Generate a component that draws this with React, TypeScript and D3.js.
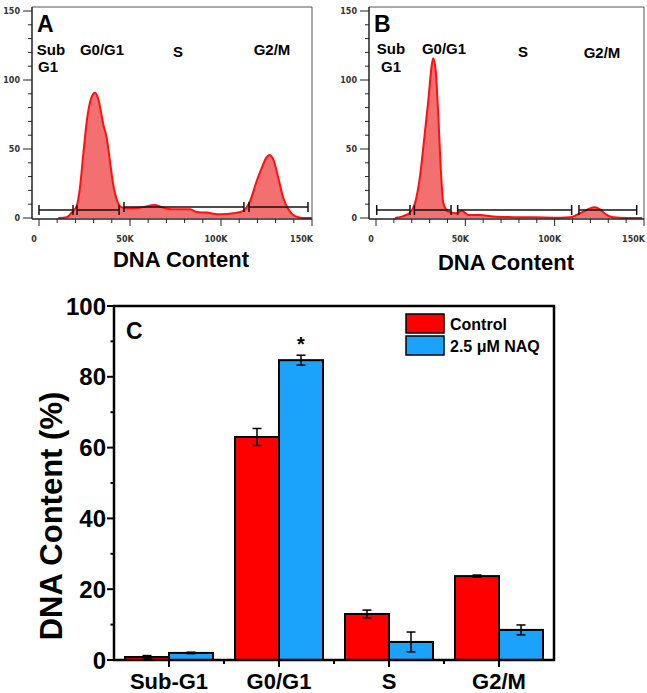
import React from "react";
import * as d3 from "d3";

// ---------- Histogram data (DNA content in K, counts) ----------
const histAK = [10.6, 15.2, 18, 20.7, 22.5, 24.3, 26.5, 29, 30.8, 32.6, 35.3, 37.2, 39, 40.8, 42.7, 44.9, 48.2, 55.5, 63.7, 68.3, 73.8, 83, 86.6, 92, 99.5, 106.8, 112, 116, 119.6, 122.4, 125, 126.5, 128.7, 131.5, 134.2, 137, 140.7, 145, 150];
const histACount = [0, 0.5, 4, 8.7, 22, 46, 72.7, 88, 90.8, 86, 68, 58, 41, 24, 13.5, 8, 7, 7.5, 9.4, 7.5, 6.3, 6.3, 4.3, 3.9, 2.7, 3.4, 5, 12.3, 26.8, 36.4, 44, 45.6, 42.5, 29, 14.7, 6.3, 1.4, 0, 0];
const histBK = [10.6, 15.3, 19, 21.8, 24.6, 26.9, 29.3, 31.1, 32, 33.4, 34.9, 36.2, 37.7, 40.5, 45.2, 48, 51.7, 58.2, 65.6, 76.8, 88, 103, 108.6, 112.3, 116, 119.8, 122.6, 125.3, 129.1, 132.8, 140.3, 149];
const histBCount = [0, 1.4, 3.9, 10.6, 30, 56.5, 85.5, 109.7, 115.7, 107, 73.4, 37, 10.6, 4.6, 3.4, 5.3, 2.2, 2.2, 1, 0.6, 0.5, 0.2, 0.5, 2.2, 4.6, 7, 7.7, 6.3, 2.2, 0.5, 0, 0];

const gateAStart = [0, 20.9, 46.7, 115.4];
const gateAEnd = [18.7, 44, 112.6, 147.8];
const gateALevel = [5.8, 5.8, 8, 8];
const gateBStart = [0.4, 21.5, 45.7, 113.6];
const gateBEnd = [19, 42, 109.5, 145.9];
const gateBLevel = [5.8, 5.8, 5.8, 5.8];

const histXTicks = [0, 50, 100, 150];
const histXTickLabels = ["0", "50K", "100K", "150K"];
const histYTicks = [0, 50, 100, 150];

// ---------- Bar chart data ----------
const categories = ["Sub-G1", "G0/G1", "S", "G2/M"];
const seriesNames = ["Control", "2.5 μM NAQ"];
const controlVals = [0.85, 63.0, 13.0, 23.7];
const controlErr = [0.4, 2.4, 1.1, 0.3];
const naqVals = [2.0, 84.7, 5.1, 8.5];
const naqErr = [0.2, 1.4, 2.8, 1.4];
const barYTicks = [0, 20, 40, 60, 80, 100];

const FONT = "'Liberation Sans', Arial, sans-serif";
const SMALL = "'DejaVu Sans', Verdana, sans-serif";
const HIST_STROKE = "#ff1010";
const HIST_FILL = "#f27070";
const RED = "#ff0000";
const BLUE = "#1ba3fb";

type HistProps = {
  letter: string;
  ks: number[];
  counts: number[];
  gs: number[];
  ge: number[];
  gl: number[];
  frameL: number;
  frameR: number;
  x0: number;
  titleX: number;
  titleY: number;
  labels: { t: string; x: number; y: number }[];
};

function Histogram(p: HistProps) {
  const x = d3.scaleLinear().domain([0, 150]).range([p.x0, p.frameR]);
  const y = d3.scaleLinear().domain([0, 150]).range([218, 11]);
  const top = 7;
  const bottom = 219;
  const pts = p.ks.map((k, i) => [k, p.counts[i]] as [number, number]);
  const area = d3
    .area<[number, number]>()
    .x((d) => x(d[0]))
    .y0(y(0))
    .y1((d) => y(d[1]))
    .curve(d3.curveMonotoneX);
  const line = d3
    .line<[number, number]>()
    .x((d) => x(d[0]))
    .y((d) => y(d[1]))
    .curve(d3.curveMonotoneX);
  const minorX = d3.range(0, 151, 10);
  const minorY = d3.range(0, 151, 10);
  return (
    <g>
      {/* frame */}
      <line x1={p.frameL} x2={p.frameR} y1={top} y2={top} stroke="#555" strokeWidth={1} />
      <line x1={p.frameR} x2={p.frameR} y1={top} y2={bottom} stroke="#555" strokeWidth={1} />
      <path d={area(pts) || ""} fill={HIST_FILL} />
      <path d={line(pts) || ""} fill="none" stroke={HIST_STROKE} strokeWidth={2} />
      <line x1={p.frameL} x2={p.frameL} y1={top} y2={bottom} stroke="#222" strokeWidth={1.5} />
      <line x1={p.frameL} x2={p.frameR} y1={bottom} y2={bottom} stroke="#222" strokeWidth={1.5} />
      {/* y ticks */}
      {minorY.map((v) => (
        <line key={"my" + v} x1={p.frameL - (v % 50 === 0 ? 9 : 4)} x2={p.frameL} y1={y(v)} y2={y(v)} stroke="#222" strokeWidth={1} />
      ))}
      {histYTicks.map((v) => (
        <text key={"ty" + v} x={p.frameL - 12} y={y(v)} dy="0.35em" textAnchor="end" fontFamily={SMALL} fontWeight="bold" fontSize={8} fill="#333">
          {v}
        </text>
      ))}
      {/* x ticks */}
      {minorX.map((v) => (
        <line key={"mx" + v} x1={x(v)} x2={x(v)} y1={bottom} y2={bottom + (v % 50 === 0 ? 7 : 4)} stroke="#222" strokeWidth={1} />
      ))}
      {histXTicks.map((v, i) => {
        const last = i === histXTicks.length - 1;
        return (
          <text
            key={"tx" + v}
            x={last ? x(v) + 1 : x(v) - 5}
            y={242}
            textAnchor={last ? "end" : "middle"}
            fontFamily={SMALL}
            fontWeight="bold"
            fontSize={8}
            fill="#333"
          >
            {histXTickLabels[i]}
          </text>
        );
      })}
      {/* gates */}
      {p.gs.map((s, i) => (
        <g key={"g" + i} stroke="#111" strokeWidth={1.5}>
          <line x1={x(s)} x2={x(p.ge[i])} y1={y(p.gl[i])} y2={y(p.gl[i])} />
          <line x1={x(s)} x2={x(s)} y1={y(p.gl[i]) - 5} y2={y(p.gl[i]) + 5} />
          <line x1={x(p.ge[i])} x2={x(p.ge[i])} y1={y(p.gl[i]) - 5} y2={y(p.gl[i]) + 5} />
        </g>
      ))}
      <text x={p.frameL + 5} y={32} fontFamily={FONT} fontWeight="bold" fontSize={23}>
        {p.letter}
      </text>
      {p.labels.map((l, i) => (
        <text key={"l" + i} x={l.x} y={l.y} textAnchor="middle" fontFamily={FONT} fontWeight="bold" fontSize={15}>
          {l.t}
        </text>
      ))}
      <text x={p.titleX} y={p.titleY} textAnchor="middle" fontFamily={FONT} fontWeight="bold" fontSize={22}>
        DNA Content
      </text>
    </g>
  );
}

function BarChart() {
  const L = 114, R = 554, T = 306, B = 660;
  const x = d3.scaleBand<string>().domain(categories).range([L, R]);
  const inner = d3.scaleBand<string>().domain(seriesNames).range([0, x.bandwidth()]).paddingInner(0).paddingOuter(0.25);
  const y = d3.scaleLinear().domain([0, 100]).range([B, T]);
  const series = [
    { name: seriesNames[0], vals: controlVals, errs: controlErr, color: RED },
    { name: seriesNames[1], vals: naqVals, errs: naqErr, color: BLUE },
  ];
  const minorY = d3.range(10, 100, 20);
  return (
    <g>
      {series.map((s) =>
        categories.map((c, i) => {
          const bx = (x(c) as number) + (inner(s.name) as number);
          const w = inner.bandwidth();
          const v = s.vals[i];
          const cx = bx + w / 2;
          return (
            <g key={s.name + c}>
              <rect x={bx} y={y(v)} width={w} height={y(0) - y(v)} fill={s.color} stroke="#000" strokeWidth={2} />
              <g stroke="#000" strokeWidth={1.5}>
                <line x1={cx} x2={cx} y1={y(v + s.errs[i])} y2={y(v - s.errs[i])} />
                <line x1={cx - 4.5} x2={cx + 4.5} y1={y(v + s.errs[i])} y2={y(v + s.errs[i])} />
                <line x1={cx - 4.5} x2={cx + 4.5} y1={y(v - s.errs[i])} y2={y(v - s.errs[i])} />
              </g>
            </g>
          );
        })
      )}
      {/* asterisk above G0/G1 NAQ */}
      <text
        x={(x(categories[1]) as number) + (inner(seriesNames[1]) as number) + inner.bandwidth() / 2}
        y={y(naqVals[1] + naqErr[1]) - 4}
        textAnchor="middle"
        fontFamily={FONT}
        fontWeight="bold"
        fontSize={20}
      >
        *
      </text>
      {/* frame */}
      <rect x={L} y={T} width={R - L} height={B - T} fill="none" stroke="#000" strokeWidth={2.5} />
      {/* y ticks */}
      {barYTicks.map((v) => (
        <g key={"by" + v}>
          <line x1={L - 7} x2={L} y1={y(v)} y2={y(v)} stroke="#000" strokeWidth={2} />
          <text x={L - 8} y={y(v)} dy="0.36em" textAnchor="end" fontFamily={FONT} fontWeight="bold" fontSize={24}>
            {v}
          </text>
        </g>
      ))}
      {minorY.map((v) => (
        <line key={"bmy" + v} x1={L - 3.5} x2={L} y1={y(v)} y2={y(v)} stroke="#000" strokeWidth={2} />
      ))}
      {/* x ticks */}
      {categories.map((c) => (
        <g key={"bx" + c}>
          <line x1={(x(c) as number) + x.bandwidth() / 2} x2={(x(c) as number) + x.bandwidth() / 2} y1={B} y2={B + 7} stroke="#000" strokeWidth={2} />
          <text x={(x(c) as number) + x.bandwidth() / 2} y={689} textAnchor="middle" fontFamily={FONT} fontWeight="bold" fontSize={22}>
            {c}
          </text>
        </g>
      ))}
      {categories.slice(1).map((c) => (
        <line key={"bmx" + c} x1={x(c) as number} x2={x(c) as number} y1={B} y2={B + 4} stroke="#000" strokeWidth={2} />
      ))}
      <text x={L + 12} y={339} fontFamily={FONT} fontWeight="bold" fontSize={23}>
        C
      </text>
      <text transform="translate(62,516) rotate(-90)" textAnchor="middle" fontFamily={FONT} fontWeight="bold" fontSize={31}>
        DNA Content (%)
      </text>
      {/* legend */}
      {series.map((s, i) => (
        <g key={"lg" + i}>
          <rect x={406} y={314 + i * 22} width={38} height={19} fill={s.color} stroke="#000" strokeWidth={1.5} />
          <text x={450} y={330 + i * 22} fontFamily={FONT} fontWeight="bold" fontSize={16}>
            {s.name}
          </text>
        </g>
      ))}
    </g>
  );
}

export default function App() {
  return (
    <svg width={647} height={693} style={{ position: "absolute", left: 0, top: 0, background: "#fff" }}>
      <rect width={647} height={693} fill="#fff" />
      <Histogram
        letter="A"
        ks={histAK}
        counts={histACount}
        gs={gateAStart}
        ge={gateAEnd}
        gl={gateALevel}
        frameL={32}
        frameR={312}
        x0={39}
        titleX={181}
        titleY={267}
        labels={[
          { t: "Sub", x: 51, y: 55 },
          { t: "G1", x: 48, y: 72 },
          { t: "G0/G1", x: 102, y: 55 },
          { t: "S", x: 178, y: 57 },
          { t: "G2/M", x: 272, y: 55 },
        ]}
      />
      <Histogram
        letter="B"
        ks={histBK}
        counts={histBCount}
        gs={gateBStart}
        ge={gateBEnd}
        gl={gateBLevel}
        frameL={369}
        frameR={644}
        x0={376}
        titleX={506}
        titleY={270}
        labels={[
          { t: "Sub", x: 391, y: 54 },
          { t: "G1", x: 391, y: 72 },
          { t: "G0/G1", x: 444, y: 54 },
          { t: "S", x: 523, y: 57 },
          { t: "G2/M", x: 602, y: 58 },
        ]}
      />
      <BarChart />
    </svg>
  );
}
